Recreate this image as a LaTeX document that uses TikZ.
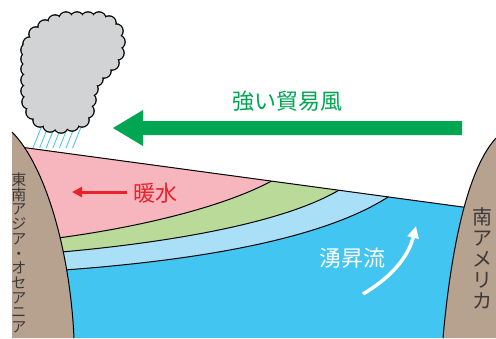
\documentclass[tikz,border=0pt]{standalone}
\usepackage{fontspec}
\newfontfamily\jpfont{Noto Sans CJK JP}
\usetikzlibrary{arrows.meta}

\definecolor{landbrown}{RGB}{183,161,143}
\definecolor{warmpink}{RGB}{247,181,190}
\definecolor{layergreen}{RGB}{185,218,153}
\definecolor{paleblue}{RGB}{170,223,248}
\definecolor{seablue}{RGB}{66,197,241}
\definecolor{windgreen}{RGB}{0,166,81}
\definecolor{warmred}{RGB}{236,32,40}
\definecolor{cloudgray}{RGB}{209,211,212}
\definecolor{rainblue}{RGB}{80,196,244}
\definecolor{labelgray}{RGB}{62,58,57}

\begin{document}
\begin{tikzpicture}[x=1pt, y=-1pt,
    outline/.style={line width=1pt, black},
    bigtext/.style={font=\fontsize{22}{26}\selectfont\jpfont, inner sep=0pt}]
        \useasboundingbox (0,0) rectangle (496,338);

        % Define sea surface and coast points
        \coordinate (S_1) at (20,147);
        \coordinate (S_2) at (470,208);
        \coordinate (L_1) at (12,132);
        \coordinate (L_2) at (74,338);
        \coordinate (R_1) at (496,138);
        \coordinate (R_2) at (443,338);

        % Fill water layers
        \begin{scope}
            \clip (S_1) -- (S_2) -- (470,338) -- (20,338) -- cycle;
            \fill[seablue] (0,0) rectangle (496,338);
            \fill[paleblue] (0,271) -- (50,271) .. controls (200,261) and (330,238) .. (394,193)
                -- (400,100) -- (0,100) -- cycle;
            \fill[layergreen] (0,253) -- (50,253) .. controls (170,243) and (290,222) .. (344,187)
                -- (350,100) -- (0,100) -- cycle;
            \fill[warmpink] (0,239) -- (50,239) .. controls (130,229) and (225,208) .. (277,178)
                -- (280,100) -- (0,100) -- cycle;

            \draw[outline] (50,271) .. controls (200,261) and (330,238) .. (394,193);
            \draw[outline] (50,253) .. controls (170,243) and (290,222) .. (344,187);
            \draw[outline] (50,239) .. controls (130,229) and (225,208) .. (277,178);
        \end{scope}

        % Sea surface
        \draw[outline] (S_1) -- (S_2);

        % Coasts
        \fill[landbrown] (L_1) .. controls (45,165) and (70,250) .. (L_2) -- (12,338) -- cycle;
        \draw[outline] (L_1) .. controls (45,165) and (70,250) .. (L_2);
        \fill[landbrown] (R_1) .. controls (465,172) and (450,260) .. (R_2) -- (496,338) -- cycle;
        \draw[outline] (R_1) .. controls (465,172) and (450,260) .. (R_2);

        % Rain
        \foreach \i in {0,...,6}
            \draw[rainblue, line width=0.9pt] (33+6.6*\i,148) -- (41+6.6*\i,128);

        % Cloud made of overlapping puffs
        \def\puffs{(30,44),(36,34),(45,27),(55,22),(66,19),(77,19),(88,19),(99,19),
            (109,23),(116,31),(118,42),(117,53),(112,63),(104,71),(96,79),(91,89),
            (89,100),(87,111),(82,120),(72,124),(61,126),(50,125),(40,120),(33,112),
            (29,102),(28,91),(28,80),(28,69),(28,59),(28,50)}
        \foreach \p in \puffs
            \draw[line width=2.6pt] \p circle (6.5);
        \fill[cloudgray] (30,44) \foreach \p in \puffs { -- \p } -- cycle;
        \foreach \p in \puffs
            \fill[cloudgray] \p circle (6.5);

        % Trade wind arrow
        \fill[windgreen] (462,121) -- (143,121) -- (143,110) -- (113,128)
            -- (143,146) -- (143,135) -- (462,135) -- cycle;
        \node[bigtext, text=windgreen] (wind) at (287.5,101) {強い貿易風};

        % Warm water
        \coordinate (warm_tail) at (127,192);
        \coordinate (warm_tip) at (72,192);
        \draw[warmred, line width=3pt, -{Triangle[length=10pt,width=10pt]}] (warm_tail) -- (warm_tip);
        \node[bigtext, text=warmred] (warm) at (155,193) {暖水};

        % Upwelling
        \coordinate (up_tail) at (363,294);
        \coordinate (up_tip) at (416,226);
        \draw[white, line width=3.5pt, -{Triangle[length=12pt,width=11pt]}]
            (up_tail) .. controls (390,278) and (408,258) .. (up_tip);
        \node[bigtext, text=white] (upwell) at (352.5,258) {湧昇流};

        % Continent names
        \node[font=\fontsize{15}{14.7}\selectfont\jpfont, text=labelgray, align=center, inner sep=0pt]
            (asia) at (19,253) {東\\南\\ア\\ジ\\ア\\・\\オ\\セ\\ア\\ニ\\ア};
        \node[font=\fontsize{20}{21}\selectfont\jpfont, text=labelgray, align=center, inner sep=0pt]
            (america) at (482,258) {南\\ア\\メ\\リ\\カ};

\end{tikzpicture}
\end{document}
